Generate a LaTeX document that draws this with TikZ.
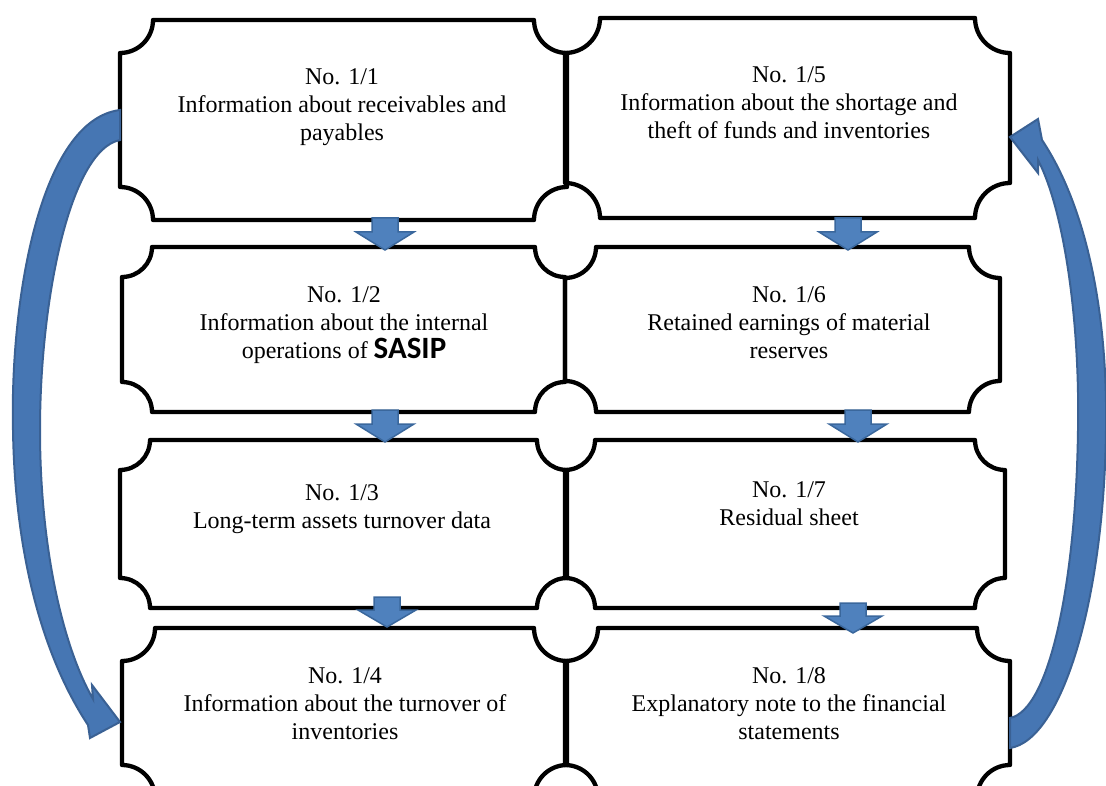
\documentclass[tikz,border=0pt]{standalone}
\usepackage{fontspec}
\setmainfont{Liberation Serif}
\newfontfamily\sasipfont{Carlito}
\usetikzlibrary{calc}
\definecolor{arrfill}{HTML}{4F81BD}
\definecolor{arredge}{HTML}{3A679C}
\definecolor{cfill}{HTML}{4676B3}
\definecolor{cedge}{HTML}{3A6194}
\tikzset{
  boxn/.style={draw=none, inner sep=0pt, outer sep=0pt},
  boxline/.style={draw=black, line width=4.3pt, line join=round},
  txt/.style={align=center, inner sep=0pt, font={\fontsize{24}{28}\selectfont}},
  dnblk/.style={fill=arrfill, draw=arredge, line width=1.5pt, line join=miter},
  curvblk/.style={fill=cfill, draw=cedge, line width=2pt, line join=miter}
}
\newcommand{\plaque}[2]{%
  \draw[boxline] let \p1=(#1.north west), \p2=(#1.south east) in
   ({\x1+#2pt},\y1) -- ({\x2-#2pt},\y1)
   .. controls ({\x2-#2pt},{\y1-0.552*#2pt}) and ({\x2-0.552*#2pt},{\y1-#2pt}) .. (\x2,{\y1-#2pt})
   -- (\x2,{\y2+#2pt})
   .. controls ({\x2-0.552*#2pt},{\y2+#2pt}) and ({\x2-#2pt},{\y2+0.552*#2pt}) .. ({\x2-#2pt},\y2)
   -- ({\x1+#2pt},\y2)
   .. controls ({\x1+#2pt},{\y2+0.552*#2pt}) and ({\x1+0.552*#2pt},{\y2+#2pt}) .. (\x1,{\y2+#2pt})
   -- (\x1,{\y1-#2pt})
   .. controls ({\x1+0.552*#2pt},{\y1-#2pt}) and ({\x1+#2pt},{\y1-0.552*#2pt}) .. cycle;}
% x, shaft top, head top, tip (pixel units, y downwards)
\newcommand{\dnarrow}[4]{%
  \draw[dnblk] ({#1-13},#2) -- ({#1+13},#2) -- ({#1+13},#3) -- ({#1+29},#3)
   -- (#1,#4) -- ({#1-29},#3) -- ({#1-13},#3) -- cycle;}
\begin{document}
\begin{tikzpicture}[x=1pt,y=-1pt]
\useasboundingbox (0,0) rectangle (1106,786);
\begin{scope}
\clip (0,0) rectangle (1106,786);
% box frames (named nodes)
\node[boxn, minimum width=447pt, minimum height=200pt] (b1) at (343.5,120) {};
\node[boxn, minimum width=445pt, minimum height=200pt] (b5) at (787.5,118) {};
\node[boxn, minimum width=443pt, minimum height=165pt] (b2) at (343.5,329.5) {};
\node[boxn, minimum width=435pt, minimum height=165pt] (b6) at (782.5,329.5) {};
\node[boxn, minimum width=447pt, minimum height=168pt] (b3) at (343.5,524) {};
\node[boxn, minimum width=440pt, minimum height=168pt] (b7) at (785,524) {};
\node[boxn, minimum width=445pt, minimum height=170pt] (b4) at (344.5,713) {};
\node[boxn, minimum width=445pt, minimum height=170pt] (b8) at (787.5,713) {};
\plaque{b1}{33}
\plaque{b5}{35}
\plaque{b2}{30}
\plaque{b6}{31}
\plaque{b3}{30}
\plaque{b7}{30}
\plaque{b4}{33}
\plaque{b8}{33}
% texts
\node[txt, anchor=north] (t1) at (342,68.5) {No. 1/1\\Information about receivables and\\payables};
\node[txt, anchor=north] (t5) at (789,66.5) {No. 1/5\\Information about the shortage and\\theft of funds and inventories};
\node[txt, anchor=north] (t2) at (344,286.5) {No. 1/2\\Information about the internal\\operations of {\sasipfont\bfseries\fontsize{31}{28}\selectfont SASIP}};
\node[txt, anchor=north] (t6) at (789,286.5) {No. 1/6\\Retained earnings of material\\reserves};
\node[txt, anchor=north] (t3) at (342,484.5) {No. 1/3\\Long-term assets turnover data};
\node[txt, anchor=north] (t7) at (789,481.5) {No. 1/7\\Residual sheet};
\node[txt, anchor=north] (t4) at (345,667.5) {No. 1/4\\Information about the turnover of\\inventories};
\node[txt, anchor=north] (t8) at (789,667.5) {No. 1/8\\Explanatory note to the financial\\statements};
% down block arrows
\dnarrow{385}{218}{232}{250}
\dnarrow{848}{218}{232}{250}
\dnarrow{385}{410}{424}{442}
\dnarrow{858}{410}{424}{442}
\dnarrow{387}{597}{610}{627}
\dnarrow{853}{603}{616}{633}
% left curved arrow (b1 -> b4)
\draw[curvblk] (120,110) .. controls (40,120) and (10,300) .. (13,430)
  .. controls (15,560) and (45,660) .. (88,725)
  -- (90,738) -- (120,722) -- (92,685) -- (93,699)
  .. controls (62,645) and (40,545) .. (40,430)
  .. controls (40,300) and (70,150) .. (120,140) -- cycle;
% right curved arrow (b8 -> b5)
\draw[curvblk] (1010,748) .. controls (1062,740) and (1104,600) .. (1106,430)
  .. controls (1108,300) and (1082,200) .. (1042,140)
  -- (1038,119) -- (1010,137) -- (1038,173) -- (1038,160)
  .. controls (1064,210) and (1080,320) .. (1078,430)
  .. controls (1076,580) and (1050,710) .. (1010,718) -- cycle;
\end{scope}
\end{tikzpicture}
\end{document}
